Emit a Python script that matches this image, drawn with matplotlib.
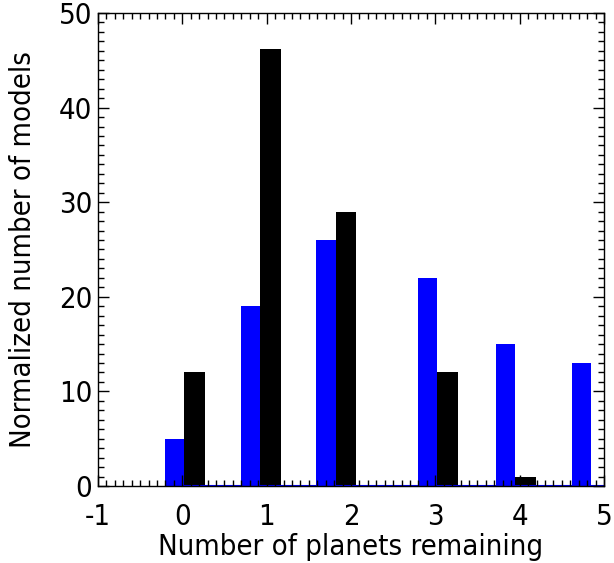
import matplotlib
matplotlib.use("Agg")
import matplotlib.pyplot as plt
from matplotlib.ticker import MultipleLocator

# bar groups: x where the blue bar ends and the black bar starts
group_x = [0.02, 0.92, 1.82, 3.02, 3.95, 4.85]
blue_vals = [5, 19, 26, 22, 15, 13]
black_vals = [12, 46.2, 29, 12, 1, 0]
xticks = [-1, 0, 1, 2, 3, 4, 5]
yticks = [0, 10, 20, 30, 40, 50]

plt.rcParams['font.family'] = ['DejaVu Sans']
plt.rcParams['font.stretch'] = 'condensed'
plt.rcParams['axes.unicode_minus'] = False

fig = plt.figure(figsize=(6.14, 5.63), dpi=100)
ax = fig.add_axes([0.1596, 0.1368, 0.8241, 0.8401])

ax.bar(group_x, blue_vals, width=-0.23, align='edge', color='blue', lw=0)
ax.bar(group_x, black_vals, width=0.245, align='edge', color='black', lw=0)
ax.plot([0, 5], [0, 0], color='blue', lw=1.5, zorder=1, clip_on=False)

ax.set_xlim(-1, 5)
ax.set_ylim(0, 50)
ax.set_xticks(xticks)
ax.set_yticks(yticks)
ax.xaxis.set_minor_locator(MultipleLocator(0.1))
ax.yaxis.set_minor_locator(MultipleLocator(1))
ax.tick_params(which='both', direction='in', top=True, right=True,
               width=1, labelsize=21)
ax.tick_params(axis='x', which='major', pad=12)
ax.tick_params(axis='y', which='major', pad=4)
ax.tick_params(which='major', length=8)
ax.tick_params(which='minor', length=4)
for s in ax.spines.values():
    s.set_linewidth(1)
    s.set_zorder(5)

ax.set_xlabel("Number of planets remaining", fontsize=21, labelpad=2)
ax.set_ylabel("Normalized number of models", fontsize=21, labelpad=16)

plt.savefig("out.png")
